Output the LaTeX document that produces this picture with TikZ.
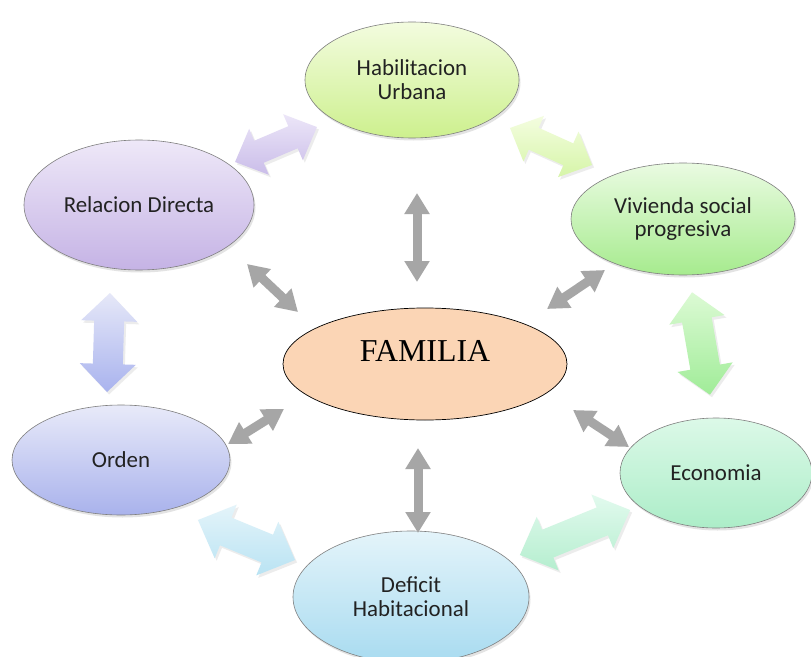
\documentclass[tikz,border=0pt]{standalone}
\usepackage{fontspec}
\setmainfont{Carlito}
\newfontfamily\serifface{Liberation Serif}
\usetikzlibrary{shapes.geometric,arrows.meta,shadows}

% fills of the topic ellipses (top / bottom of each gradient)
\definecolor{habA}{HTML}{F3FCDF}\definecolor{habB}{HTML}{CDF08E}
\definecolor{relA}{HTML}{EEE8F8}\definecolor{relB}{HTML}{C5B3E5}
\definecolor{vivA}{HTML}{EAFBE2}\definecolor{vivB}{HTML}{A6EB8E}
\definecolor{ordA}{HTML}{E8EAF9}\definecolor{ordB}{HTML}{A9B2EC}
\definecolor{ecoA}{HTML}{DCF9E8}\definecolor{ecoB}{HTML}{ACEDC8}
\definecolor{defA}{HTML}{E4F4FA}\definecolor{defB}{HTML}{A8DBF0}
\definecolor{famfill}{HTML}{FBD5B5}
% fills of the block arrows
\definecolor{arAa}{HTML}{ECE6F8}\definecolor{arAb}{HTML}{CABDE9}
\definecolor{arBa}{HTML}{F4FDE0}\definecolor{arBb}{HTML}{D6F5A8}
\definecolor{arCa}{HTML}{E6E8F8}\definecolor{arCb}{HTML}{A9B3EE}
\definecolor{arDa}{HTML}{DCFAD4}\definecolor{arDb}{HTML}{A0EC98}
\definecolor{arEa}{HTML}{E4F4FA}\definecolor{arEb}{HTML}{B9E3F3}
\definecolor{arFa}{HTML}{E2FAEE}\definecolor{arFb}{HTML}{B5EECF}
\definecolor{edgegray}{HTML}{7F7F7F}
\definecolor{arrowgray}{HTML}{A6A6A6}
\definecolor{txt}{HTML}{222222}

% double-headed block arrow (the gradient stays vertical on the page):
% #1 style, #2 centre, #3 angle, #4 half length, #5 half shaft, #6 half head, #7 head length
\newcommand{\blkarrow}[7]{%
  \begin{scope}[shift={#2}, rotate=#3]
    \path[#1]
      (-#4,0) -- (-#4+#7,#6) -- (-#4+#7,#5) -- (#4-#7,#5) -- (#4-#7,#6)
      -- (#4,0) -- (#4-#7,-#6) -- (#4-#7,-#5) -- (-#4+#7,-#5) -- (-#4+#7,-#6) -- cycle;
  \end{scope}}

\begin{document}
\begin{tikzpicture}[x=1bp,y=1bp,
  topic/.style={ellipse, draw=edgegray, line width=0.6bp, inner sep=0pt,
    align=center, text=txt, font=\fontsize{23}{24}\selectfont,
    drop shadow={shadow xshift=1.5bp, shadow yshift=-2.5bp, opacity=0.22}},
  blockfill/.style n args={2}{top color=#1, bottom color=#2,
    drop shadow={shadow xshift=2bp, shadow yshift=-2.5bp, opacity=0.15}},
  linkarrow/.style={draw=arrowgray, line width=9bp,
    {Triangle[length=21bp,width=24bp]}-{Triangle[length=21bp,width=24bp]}}]

\fill[white] (0,0) rectangle (811,-657);
\useasboundingbox (0,0) rectangle (811,-657);

% block arrows between neighbouring topics
\blkarrow{blockfill={arAa}{arAb}}{(276,-144.5)}{23.1}{44.5}{12}{25}{26}
\blkarrow{blockfill={arBa}{arBb}}{(551,-146.5)}{-24.3}{45}{12}{25}{26}
\blkarrow{blockfill={arCa}{arCb}}{(108.5,-342.5)}{88.3}{49.5}{15}{28}{28}
\blkarrow{blockfill={arDa}{arDb}}{(701,-343.5)}{99.9}{52}{15}{28}{28}
\blkarrow{blockfill={arEa}{arEb}}{(246.5,-540)}{-22.4}{52.5}{15}{29}{30}
\blkarrow{blockfill={arFa}{arFb}}{(575,-532.5)}{22.2}{59.5}{15}{29}{30}

% topics
\node[topic, minimum width=214bp, minimum height=116bp, top color=habA, bottom color=habB]
  (habil) at (412,-80) {Habilitacion\\Urbana};
\node[topic, minimum width=230bp, minimum height=130bp, top color=relA, bottom color=relB]
  (relacion) at (139,-205) {Relacion Directa};
\node[topic, minimum width=224bp, minimum height=112bp, top color=vivA, bottom color=vivB]
  (vivienda) at (683,-219) {Vivienda social\\progresiva};
\node[topic, minimum width=218bp, minimum height=110bp, top color=ordA, bottom color=ordB]
  (orden) at (121,-460) {Orden};
\node[topic, minimum width=192bp, minimum height=110bp, top color=ecoA, bottom color=ecoB]
  (economia) at (716,-473) {Economia};
\node[topic, minimum width=236bp, minimum height=132bp, top color=defA, bottom color=defB]
  (deficit) at (411,-597) {Deficit\\Habitacional};

% central node, its word set high and a little to the left
\node[ellipse, draw=black, line width=0.7bp, fill=famfill, inner sep=0pt,
  minimum width=284bp, minimum height=112bp, text=black,
  font=\serifface\fontsize{32}{36}\selectfont, text height=22bp, text depth=28bp]
  (familia) at (425,-364) {FAMILIA\hspace{20bp}};

% links from the centre to the surrounding topics
\coordinate (fUp)  at (417,-282); \coordinate (hDown) at (417,-193);
\coordinate (fUL)  at (298,-312); \coordinate (rLink) at (247,-264);
\coordinate (fUR)  at (547,-309); \coordinate (vLink) at (605,-270);
\coordinate (fLL)  at (284,-409); \coordinate (oLink) at (228,-444);
\coordinate (fLR)  at (573,-410); \coordinate (eLink) at (629,-447);
\coordinate (fDn)  at (418,-448); \coordinate (dUp)   at (418,-533);

\draw[linkarrow] (fUp) -- (hDown);
\draw[linkarrow] (fUL) -- (rLink);
\draw[linkarrow] (fUR) -- (vLink);
\draw[linkarrow] (fLL) -- (oLink);
\draw[linkarrow] (fLR) -- (eLink);
\draw[linkarrow] (fDn) -- (dUp);
\end{tikzpicture}
\end{document}
